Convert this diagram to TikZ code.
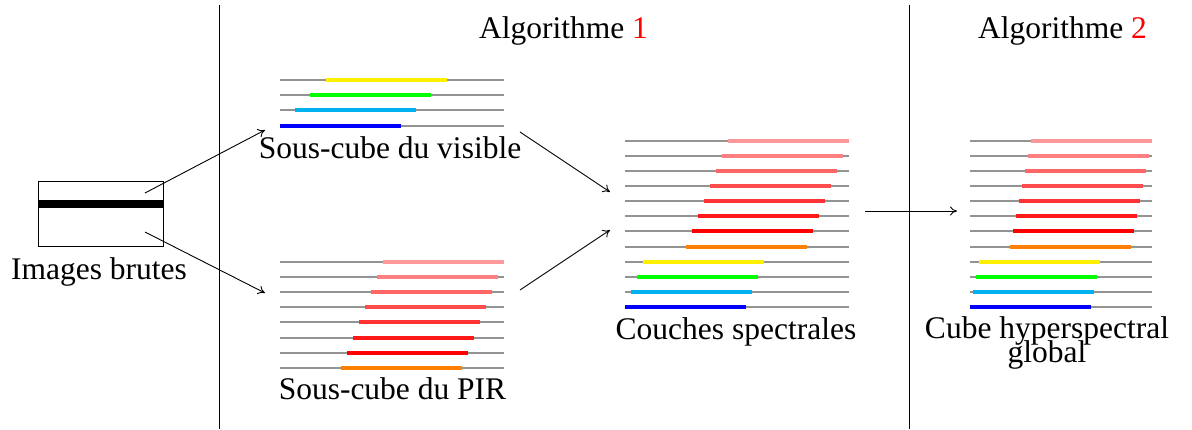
\documentclass[tikz,border=0pt]{standalone}
\usepackage{fontspec}
\setmainfont{Liberation Serif}
\usetikzlibrary{arrows.meta}
\definecolor{cyanb}{RGB}{0,176,240}
\definecolor{yel}{RGB}{255,240,0}
\definecolor{grn}{RGB}{0,255,0}
\definecolor{orng}{RGB}{255,128,0}
\tikzset{
  lbl/.style={font=\fontsize{31.5}{23}\selectfont, anchor=base, inner sep=0pt, align=center},
  baseline/.style={draw=gray!85, line width=1.1pt},
  bar/.style={line width=3.6pt},
  conn/.style={line width=0.9pt, -{To[length=7pt,width=9pt]}},
  sep/.style={line width=1pt}
}
\begin{document}
\begin{tikzpicture}[x=1pt,y=-1pt]
\useasboundingbox (0,0) rectangle (1192,429);
% separators
\draw[sep] (219,5) -- (219,429);
\draw[sep] (909,5) -- (909,429);
% titles
\node[lbl] (alg1) at (563.5,38) {Algorithme \textcolor{red}{1}};
\node[lbl] (alg2) at (1062.5,38) {Algorithme \textcolor{red}{2}};
% raw image
\draw[line width=1pt] (38,181) rectangle (163,246);
\fill[black] (38,200) rectangle (163,208);
\node[lbl] (raw) at (99,279) {Images brutes};
% visible subcube
\foreach \y/\s/\c in {80/326/yel,95/310/grn,110/295/cyanb,126/280/blue}{
  \draw[baseline] (280,\y) -- (504,\y);
  \draw[bar,\c] (\s,\y) -- ++(121,0);
}
\node[lbl] (vis) at (390,158) {Sous-cube du visible};
% PIR subcube
\foreach \y/\s/\c in {262/383/red!40,277/377/red!50,292/371/red!60,307/365/red!70,322/359/red!80,338/353/red!90,353/347/red,368/341/orng}{
  \draw[baseline] (280,\y) -- (504,\y);
  \draw[bar,\c] (\s,\y) -- ++(121,0);
}
\node[lbl] (pir) at (392.5,399) {Sous-cube du PIR};
% spectral layers
\foreach \y/\s/\c in {141/728/red!40,156/722/red!50,171/716/red!60,186/710/red!70,201/704/red!80,216/698/red!90,231/692/red,247/686/orng,262/643/yel,277/637/grn,292/631/cyanb,307/625/blue}{
  \draw[baseline] (625,\y) -- (849,\y);
  \draw[bar,\c] (\s,\y) -- ++(121,0);
}
\node[lbl] (cs) at (736,339) {Couches spectrales};
% global cube
\foreach \y/\s/\c in {141/1031/red!40,156/1028/red!50,171/1025/red!60,186/1022/red!70,201/1019/red!80,216/1016/red!90,231/1013/red,247/1010/orng,262/979/yel,277/976/grn,292/973/cyanb,307/970/blue}{
  \draw[baseline] (970,\y) -- (1152,\y);
  \draw[bar,\c] (\s,\y) -- ++(121,0);
}
\node[lbl] (chg) at (1047,362) {Cube hyperspectral\\[-6pt]global};
% connectors
\coordinate (r1) at (145,193);
\coordinate (r2) at (145,232);
\coordinate (v1) at (265,130);
\coordinate (p1) at (265,293);
\coordinate (v2) at (520,132);
\coordinate (p2) at (520,290);
\coordinate (c1) at (610,192);
\coordinate (c2) at (610,230);
\coordinate (c3) at (865,211);
\coordinate (g1) at (957,211);
\draw[conn] (r1) -- (v1);
\draw[conn] (r2) -- (p1);
\draw[conn] (v2) -- (c1);
\draw[conn] (p2) -- (c2);
\draw[conn] (c3) -- (g1);
\end{tikzpicture}
\end{document}
